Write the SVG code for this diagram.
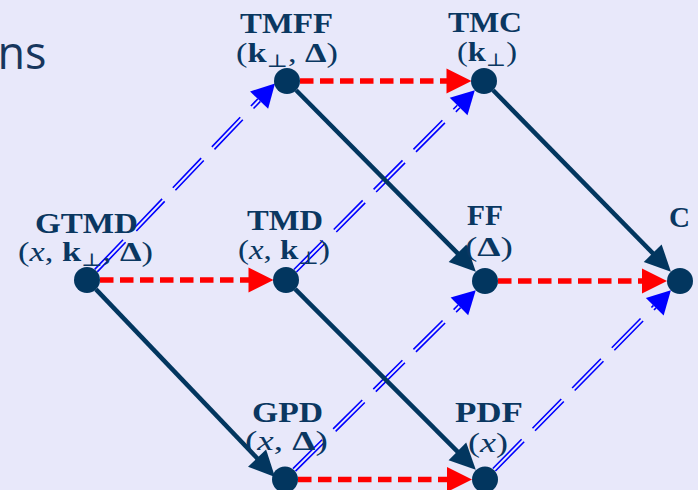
<svg xmlns="http://www.w3.org/2000/svg" width="698" height="490" viewBox="0 0 698 490">
<style>
.bg{fill:#E8E8FA}
.node{fill:#02365F}
.t1{font-family:"Liberation Serif","DejaVu Serif",serif;font-weight:bold;font-size:30px;fill:#0A3761;text-anchor:middle}
.t2{font-family:"Liberation Serif","DejaVu Serif",serif;font-size:27px;fill:#0A3761;text-anchor:middle}
.b{font-weight:bold}
.i{font-style:italic}
.sub{font-size:18px}
.red{stroke:#FF0000;stroke-width:5.5;stroke-dasharray:13.5 6.5;fill:none}
.dark{stroke:#02365F;stroke-width:4.5;fill:none}
.blue{stroke:#0000FF;stroke-width:1.6;stroke-dasharray:41 15.5;fill:none}
.ah-red{fill:#FF0000}
.ah-dark{fill:#02365F}
.ah-blue{fill:#0000FF}
.title{font-family:"Open Sans","Noto Sans",sans-serif;font-size:45px;fill:#17365D}
</style>
<rect class="bg" x="0" y="0" width="698" height="490"/>
<text class="title" x="-2.5" y="69">ns</text>
<g id="connectors">
  <line class="blue" x1="97.29" y1="271.84" x2="260.40" y2="101.36"/>
  <line class="blue" x1="94.69" y1="269.36" x2="257.80" y2="98.88"/>
  <polygon class="ah-blue" points="275,83.5 268.13,108.76 250.07,91.48"/>
  <line class="blue" x1="296.45" y1="272.05" x2="459.89" y2="107.80"/>
  <line class="blue" x1="293.89" y1="269.51" x2="457.33" y2="105.26"/>
  <polygon class="ah-blue" points="474.83,90.22 467.47,115.35 449.75,97.71"/>
  <line class="blue" x1="295.51" y1="471.13" x2="460.68" y2="307.61"/>
  <line class="blue" x1="292.97" y1="468.57" x2="458.14" y2="305.05"/>
  <polygon class="ah-blue" points="475.76,290.15 468.21,315.21 450.62,297.45"/>
  <line class="blue" x1="495.40" y1="471.00" x2="656.02" y2="307.91"/>
  <line class="blue" x1="492.84" y1="468.48" x2="653.46" y2="305.39"/>
  <polygon class="ah-blue" points="670.88,290.26 663.65,315.42 645.83,297.88"/>
  <line class="red" x1="100" y1="280" x2="249" y2="280"/>
  <polygon class="ah-red" points="273.5,280 248.5,267.5 248.5,292.5"/>
  <line class="red" x1="300" y1="81" x2="447" y2="81"/>
  <polygon class="ah-red" points="471.5,81 446.5,68.5 446.5,93.5"/>
  <line class="red" x1="498" y1="281" x2="643" y2="281"/>
  <polygon class="ah-red" points="667,281 642,268.5 642,293.5"/>
  <line class="red" x1="298" y1="479.5" x2="448" y2="479.5"/>
  <polygon class="ah-red" points="472,479.5 447,467 447,492"/>
  <line class="dark" x1="96" y1="289.4" x2="258.4" y2="459.6"/>
  <polygon class="ah-dark" points="275,477 248.0,466.8 266.1,449.6"/>
  <line class="dark" x1="295.2" y1="289.2" x2="458.8" y2="452.8"/>
  <polygon class="ah-dark" points="475.8,469.8 448.6,460.2 466.2,442.6"/>
  <line class="dark" x1="296.15" y1="90.24" x2="458.96" y2="254.70"/>
  <polygon class="ah-dark" points="475.85,271.76 448.68,262.08 466.44,244.48"/>
  <line class="dark" x1="493.1" y1="90.29" x2="654.1" y2="254.57"/>
  <polygon class="ah-dark" points="670.9,271.71 643.77,261.89 661.63,244.39"/>
</g>
<g id="gtmd">
  <circle class="node" cx="87" cy="280" r="13"/>
  <text class="t1" x="86.5" y="233" textLength="103" lengthAdjust="spacingAndGlyphs">GTMD</text>
  <text class="t2" x="85.5" y="261" textLength="135" lengthAdjust="spacingAndGlyphs">(<tspan class="i">x</tspan>, <tspan class="b">k</tspan><tspan class="sub" dy="5">⊥</tspan><tspan dy="-5">, </tspan><tspan class="b">Δ</tspan>)</text>
</g>
<g id="tmd">
  <circle class="node" cx="286" cy="280" r="13"/>
  <text class="t1" x="285" y="230" textLength="76" lengthAdjust="spacingAndGlyphs">TMD</text>
  <text class="t2" x="284" y="259" textLength="92" lengthAdjust="spacingAndGlyphs">(<tspan class="i">x</tspan>, <tspan class="b">k</tspan><tspan class="sub" dy="5">⊥</tspan><tspan dy="-5">)</tspan></text>
</g>
<g id="tmff">
  <circle class="node" cx="287" cy="81" r="13"/>
  <text class="t1" x="286.5" y="33" textLength="93" lengthAdjust="spacingAndGlyphs">TMFF</text>
  <text class="t2" x="287" y="62" textLength="102" lengthAdjust="spacingAndGlyphs">(<tspan class="b">k</tspan><tspan class="sub" dy="5">⊥</tspan><tspan dy="-5">, </tspan><tspan class="b">Δ</tspan>)</text>
</g>
<g id="tmc">
  <circle class="node" cx="484" cy="81" r="13"/>
  <text class="t1" x="485" y="32" textLength="74" lengthAdjust="spacingAndGlyphs">TMC</text>
  <text class="t2" x="487" y="61" textLength="60" lengthAdjust="spacingAndGlyphs">(<tspan class="b">k</tspan><tspan class="sub" dy="5">⊥</tspan><tspan dy="-5">)</tspan></text>
</g>
<g id="ff">
  <circle class="node" cx="485" cy="281" r="13"/>
  <text class="t1" x="485" y="225" textLength="36" lengthAdjust="spacingAndGlyphs">FF</text>
  <text class="t2" x="489" y="256" textLength="48" lengthAdjust="spacingAndGlyphs">(<tspan class="b">Δ</tspan>)</text>
</g>
<g id="c">
  <circle class="node" cx="680" cy="281" r="13"/>
  <text class="t1" x="679.5" y="227" textLength="21" lengthAdjust="spacingAndGlyphs">C</text>
</g>
<g id="gpd">
  <circle class="node" cx="285" cy="479.5" r="13"/>
  <text class="t1" x="287.5" y="422" textLength="71" lengthAdjust="spacingAndGlyphs">GPD</text>
  <text class="t2" x="286.5" y="450" textLength="83" lengthAdjust="spacingAndGlyphs">(<tspan class="i">x</tspan>, <tspan class="b">Δ</tspan>)</text>
</g>
<g id="pdf">
  <circle class="node" cx="485" cy="479.5" r="13"/>
  <text class="t1" x="489" y="422" textLength="68" lengthAdjust="spacingAndGlyphs">PDF</text>
  <text class="t2" x="488" y="452" textLength="40" lengthAdjust="spacingAndGlyphs">(<tspan class="i">x</tspan>)</text>
</g>
</svg>
